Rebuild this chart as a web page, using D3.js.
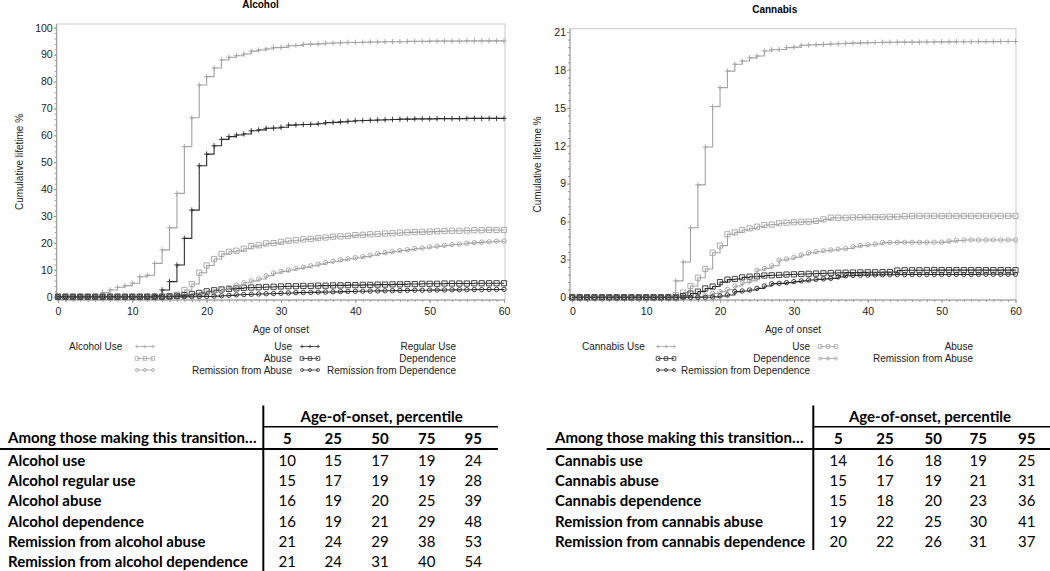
<!DOCTYPE html>
<html><head><meta charset="utf-8">
<script src="https://cdn.jsdelivr.net/npm/d3@7"></script>
<style>
html,body{margin:0;padding:0;background:#fff;}
svg{display:block;}
</style></head>
<body>
<svg id="chart" width="1050" height="571"></svg>
<script>
// ---------------- DATA ----------------
const ages = [0,1,2,3,4,5,6,7,8,9,10,11,12,13,14,15,16,17,18,19,20,21,22,23,24,25,26,27,28,29,30,
  31,32,33,34,35,36,37,38,39,40,41,42,43,44,45,46,47,48,49,50,51,52,53,54,55,56,57,58,59,60];

// Alcohol (cumulative lifetime %)
const alcUse = [0,0,0,0,0,0,1.5,2.5,3.5,4.1,5.0,7.4,8.0,12.4,17.4,25.6,38.4,55.8,66.5,78.7,81.8,
  85.0,88.0,89.0,89.6,90.2,91.3,91.7,92.1,92.6,92.7,93.3,93.4,93.8,93.9,94.0,94.2,94.3,94.4,94.5,94.5,
  94.6,94.7,94.7,94.8,94.8,94.8,94.9,94.9,94.9,95.0,95.0,95.0,95.0,95.0,95.1,95.1,95.1,95.1,95.1,95.1];
const alcRegular = [0,0,0,0,0,0,0,0,0,0,0,0,0,0.3,2.5,5.6,11.8,21.7,32.2,48.7,53.0,
  56.1,58.5,59.5,60.1,60.5,61.7,62.0,62.6,62.7,63.0,63.8,63.9,64.0,64.1,64.3,64.7,64.8,65.0,65.2,65.4,
  65.5,65.6,65.7,65.8,65.9,66.0,66.0,66.1,66.1,66.1,66.2,66.2,66.2,66.2,66.3,66.3,66.3,66.3,66.3,66.3];
const alcAbuse = [0,0,0,0,0,0,0,0,0,0,0,0,0,0,0,0.3,0.8,2.5,4.7,8.9,11.6,
  14.0,15.9,16.7,17.1,17.8,18.8,19.1,19.8,19.9,20.4,20.8,21.0,21.3,21.5,21.8,22.0,22.3,22.4,22.6,22.9,
  23.0,23.2,23.3,23.5,23.6,23.8,23.9,24.0,24.1,24.2,24.3,24.4,24.5,24.5,24.6,24.7,24.7,24.8,24.8,24.8];
const alcDep = [0,0,0,0,0,0,0,0,0,0,0,0,0,0,0,0.1,0.3,0.6,1.0,1.4,2.0,
  2.4,2.7,2.9,3.1,3.3,3.4,3.5,3.6,3.7,3.8,3.9,3.9,4.0,4.0,4.1,4.1,4.2,4.2,4.3,4.3,
  4.4,4.4,4.5,4.5,4.6,4.6,4.7,4.7,4.8,4.8,4.8,4.9,4.9,4.9,4.9,5.0,5.0,5.0,5.0,5.0];
const alcRemAbuse = [0,0,0,0,0,0,0,0,0,0,0,0,0,0,0,0,0,0.1,0.3,0.6,1.0,
  1.8,2.6,3.4,4.3,5.2,5.9,6.6,7.8,8.8,9.4,9.9,10.5,11.0,11.5,12.1,12.7,13.2,13.7,14.1,14.5,
  14.9,15.4,16.0,16.4,16.8,17.2,17.5,17.9,18.1,18.5,18.8,19.1,19.4,19.6,19.9,20.1,20.3,20.4,20.6,20.7];
const alcRemDep = [0,0,0,0,0,0,0,0,0,0,0,0,0,0,0,0,0,0,0,0.05,0.1,
  0.2,0.35,0.5,0.7,0.8,0.9,1.0,1.1,1.2,1.3,1.4,1.5,1.55,1.6,1.7,1.75,1.8,1.9,1.95,2.0,
  2.05,2.1,2.15,2.2,2.25,2.3,2.35,2.4,2.4,2.45,2.45,2.5,2.55,2.6,2.6,2.65,2.65,2.7,2.7,2.75];

// Cannabis (cumulative lifetime %)
const canUse = [0,0,0,0,0,0,0,0,0,0,0,0,0,0,1.3,2.8,5.5,8.9,11.9,15.1,16.6,
  17.9,18.45,18.7,18.95,19.1,19.5,19.6,19.62,19.76,19.8,19.95,19.97,20.0,20.02,20.05,20.07,20.1,20.12,20.14,20.16,
  20.17,20.18,20.19,20.2,20.2,20.2,20.21,20.21,20.22,20.22,20.22,20.23,20.23,20.23,20.24,20.24,20.24,20.25,20.25,20.25];
const canAbuse = [0,0,0,0,0,0,0,0,0,0,0,0,0,0,0.18,0.37,0.9,1.55,2.24,3.53,4.09,
  4.99,5.14,5.33,5.46,5.59,5.72,5.76,5.86,5.9,5.94,5.97,5.99,6.05,6.17,6.3,6.3,6.3,6.32,6.33,6.34,
  6.35,6.36,6.37,6.38,6.42,6.44,6.44,6.44,6.44,6.44,6.44,6.44,6.44,6.44,6.44,6.44,6.44,6.44,6.44,6.44];
const canDep = [0,0,0,0,0,0,0,0,0,0,0,0,0,0,0,0.1,0.3,0.45,0.7,0.85,1.2,
  1.4,1.45,1.58,1.63,1.66,1.72,1.74,1.77,1.8,1.82,1.84,1.86,1.88,1.9,1.92,1.94,1.95,1.96,1.97,1.98,
  1.98,1.99,2.0,2.12,2.14,2.14,2.14,2.14,2.15,2.15,2.15,2.15,2.15,2.15,2.15,2.15,2.15,2.15,2.15,2.15];
const canRemAbuse = [0,0,0,0,0,0,0,0,0,0,0,0,0,0,0,0,0,0.05,0.15,0.3,0.45,
  0.62,0.9,1.15,1.3,2.16,2.29,2.5,2.95,3.03,3.17,3.35,3.53,3.61,3.69,3.75,3.82,3.86,4.0,4.1,4.16,
  4.22,4.33,4.34,4.35,4.35,4.35,4.35,4.36,4.36,4.37,4.45,4.5,4.54,4.54,4.54,4.54,4.54,4.54,4.54,4.54];
const canRemDep = [0,0,0,0,0,0,0,0,0,0,0,0,0,0,0,0,0,0,0,0.03,0.1,
  0.18,0.45,0.5,0.58,0.71,0.9,1.08,1.1,1.16,1.24,1.3,1.37,1.42,1.46,1.5,1.62,1.7,1.73,1.75,1.76,
  1.77,1.78,1.79,1.8,1.8,1.8,1.8,1.8,1.81,1.81,1.81,1.81,1.81,1.81,1.82,1.82,1.82,1.82,1.82,1.82];

// Tick labels
const xTicks = [0,10,20,30,40,50,60];
const alcYTicks = [0,10,20,30,40,50,60,70,80,90,100];
const canYTicks = [0,3,6,9,12,15,18,21];

// Legend labels
const alcLegendTitle = "Alcohol Use";
const alcLegendLabels = ["Use","Regular Use","Abuse","Dependence","Remission from Abuse","Remission from Dependence"];
const canLegendTitle = "Cannabis Use";
const canLegendLabels = ["Use","Abuse","Dependence","Remission from Abuse","Remission from Dependence"];

// Tables
const pctCols = ["5","25","50","75","95"];
const alcRowLabels = ["Alcohol use","Alcohol regular use","Alcohol abuse","Alcohol dependence",
  "Remission from alcohol abuse","Remission from alcohol dependence"];
const alcPctValues = [[10,15,17,19,24],[15,17,19,19,28],[16,19,20,25,39],[16,19,21,29,48],
  [21,24,29,38,53],[21,24,31,40,54]];
const canRowLabels = ["Cannabis use","Cannabis abuse","Cannabis dependence",
  "Remission from cannabis abuse","Remission from cannabis dependence"];
const canPctValues = [[14,16,18,19,25],[15,17,19,21,31],[15,18,20,23,36],[19,22,25,30,41],[20,22,26,31,37]];

// ---------------- STYLE ----------------
const LIGHT = "#a3a3a3", DARK = "#2e2e2e";
const chartFont = "'Liberation Sans', Arial, sans-serif";
const tableFont = "Lato, 'Open Sans', sans-serif";

const svg = d3.select("#chart");
svg.append("rect").attr("width",1050).attr("height",571).attr("fill","#fff");

function markerPath(sym, s){
  if(sym==="plus") return `M${-2.7*s},0H${2.7*s}M0,${-2.7*s}V${2.7*s}`;
  if(sym==="square") { const h=2.6*s; return `M${-h},${-h}H${h}V${h}H${-h}Z`; }
  const r=2.2*s; return `M${-r},0A${r},${r} 0 1,0 ${r},0A${r},${r} 0 1,0 ${-r},0Z`;
}

function drawChart(cfg){
  const g = svg.append("g");
  const x = d3.scaleLinear().domain([0,60]).range(cfg.xRange);
  const y = d3.scaleLinear().domain([0,cfg.yMax]).range(cfg.yRange);
  const f = cfg.frame; // [x0,y0,x1,y1]

  g.append("rect").attr("x",f[0]).attr("y",f[1]).attr("width",f[2]-f[0]).attr("height",f[3]-f[1])
    .attr("fill","none").attr("stroke","#c9c9c9").attr("stroke-width",1);
  g.append("line").attr("x1",f[0]).attr("x2",f[0]).attr("y1",f[1]).attr("y2",f[3]).attr("stroke","#9a9a9a");
  g.append("line").attr("x1",f[0]).attr("x2",f[2]).attr("y1",f[3]).attr("y2",f[3]).attr("stroke","#9a9a9a");

  const xMinor = d3.range(0,61,1);
  const gxm = g.append("g").attr("transform",`translate(0,${f[3]})`)
    .call(d3.axisBottom(x).tickValues(xMinor).tickSize(2).tickFormat(""));
  const gx = g.append("g").attr("transform",`translate(0,${f[3]})`)
    .call(d3.axisBottom(x).tickValues(xTicks).tickSize(3).tickPadding(5));
  const gym = g.append("g").attr("transform",`translate(${f[0]},0)`)
    .call(d3.axisLeft(y).tickValues(cfg.yMinor).tickSize(2).tickFormat(""));
  const gy = g.append("g").attr("transform",`translate(${f[0]},0)`)
    .call(d3.axisLeft(y).tickValues(cfg.yTicks).tickSize(3).tickPadding(1));
  [gx,gy,gxm,gym].forEach(a=>{
    a.select(".domain").remove();
    a.selectAll(".tick line").attr("stroke","#9a9a9a");
    a.selectAll("text").attr("font-family",chartFont).attr("font-size",10.5).attr("fill","#222");
  });

  g.append("text").attr("x",cfg.titleX).attr("y",cfg.titleY).attr("text-anchor","middle")
    .attr("font-family",chartFont).attr("font-weight","bold").attr("font-size",10).text(cfg.title);
  g.append("text").attr("x",(f[0]+f[2])/2).attr("y",333).attr("text-anchor","middle")
    .attr("font-family",chartFont).attr("font-size",10).attr("fill","#222").text("Age of onset");
  g.append("text").attr("transform",`translate(${cfg.yLabelX},${(f[1]+f[3])/2}) rotate(-90)`)
    .attr("text-anchor","middle").attr("font-family",chartFont).attr("font-size",10).attr("fill","#222")
    .text("Cumulative lifetime %");

  const line = d3.line().curve(d3.curveStepAfter).x(d=>x(d[0])).y(d=>y(d[1]));
  cfg.series.forEach(s=>{
    const pts = ages.map((a,i)=>[a,s.values[i]]);
    g.append("path").attr("d",line(pts)).attr("fill","none").attr("stroke",s.color).attr("stroke-width",1.1);
    g.append("g").selectAll("path").data(pts).join("path")
      .attr("transform",d=>`translate(${x(d[0])},${y(d[1])})`)
      .attr("d",markerPath(s.sym,1)).attr("fill","none").attr("stroke",s.color).attr("stroke-width",0.9);
  });

  const L = cfg.legend;
  g.append("text").attr("x",L.titleX).attr("y",L.rows[0]).attr("font-family",chartFont)
    .attr("font-size",10).attr("fill","#222").text(L.title);
  cfg.series.forEach((s,i)=>{
    const col = i%2, row = Math.floor(i/2);
    const sx = L.symX[col], ly = L.rows[row], sy = ly-3.5;
    g.append("line").attr("x1",sx).attr("x2",sx+16).attr("y1",sy).attr("y2",sy)
      .attr("stroke",s.color).attr("stroke-width",0.8);
    [0,8,16].forEach(o=>g.append("path").attr("transform",`translate(${sx+o},${sy})`)
      .attr("d",markerPath(s.sym,0.7)).attr("fill","none").attr("stroke",s.color).attr("stroke-width",0.8));
    g.append("text").attr("x",L.labEnd[col]).attr("y",ly).attr("text-anchor","end")
      .attr("font-family",chartFont).attr("font-size",10).attr("fill","#222").text(s.label);
  });
}

const alcSeries = [
  {values:alcUse, color:LIGHT, sym:"plus"},
  {values:alcRegular, color:DARK, sym:"plus"},
  {values:alcAbuse, color:LIGHT, sym:"square"},
  {values:alcDep, color:DARK, sym:"square"},
  {values:alcRemAbuse, color:LIGHT, sym:"circle"},
  {values:alcRemDep, color:DARK, sym:"circle"}
].map((s,i)=>Object.assign(s,{label:alcLegendLabels[i]}));

const canSeries = [
  {values:canUse, color:LIGHT, sym:"plus"},
  {values:canAbuse, color:LIGHT, sym:"square"},
  {values:canDep, color:DARK, sym:"square"},
  {values:canRemAbuse, color:LIGHT, sym:"circle"},
  {values:canRemDep, color:DARK, sym:"circle"}
].map((s,i)=>Object.assign(s,{label:canLegendLabels[i]}));

drawChart({
  title:"Alcohol", titleX:260.5, titleY:8,
  xRange:[58,504], yRange:[296.7,27.7], yMax:100,
  frame:[56.7,24,505,300], yTicks:alcYTicks, yMinor:d3.range(0,101,2), yLabelX:23,
  series:alcSeries,
  legend:{title:alcLegendTitle, titleX:69, rows:[350,362,373.5], symX:[137,302], labEnd:[292,456]}
});
drawChart({
  title:"Cannabis", titleX:774.7, titleY:12.5,
  xRange:[572.3,1015.5], yRange:[297.3,32], yMax:21,
  frame:[570,28.7,1016,300], yTicks:canYTicks, yMinor:d3.range(0,21.01,0.6), yLabelX:541,
  series:canSeries,
  legend:{title:canLegendTitle, titleX:582, rows:[350,362,373.5], symX:[658,820], labEnd:[810,973]}
});

// ---------------- TABLES ----------------
function drawTable(t){
  const g = svg.append("g").attr("font-family",tableFont).attr("fill","#000");
  g.append("line").attr("x1",t.vx).attr("x2",t.vx).attr("y1",405.5).attr("y2",t.vBottom)
    .attr("stroke","#000").attr("stroke-width",2);
  g.append("line").attr("x1",t.vx).attr("x2",t.right).attr("y1",426.7).attr("y2",426.7)
    .attr("stroke","#000").attr("stroke-width",1.5);
  g.append("line").attr("x1",t.left).attr("x2",t.right).attr("y1",449).attr("y2",449)
    .attr("stroke","#000").attr("stroke-width",2);
  g.append("text").attr("x",t.headX).attr("y",443).attr("font-weight","bold").attr("font-size",t.fs)
    .text("Among those making this transition…");
  g.append("text").attr("x",t.groupX).attr("y",422).attr("text-anchor","middle")
    .attr("font-weight","bold").attr("font-size",t.fs).text("Age-of-onset, percentile");
  g.selectAll(".ch").data(pctCols).join("text").attr("x",(d,i)=>t.colX[i]).attr("y",443.5)
    .attr("text-anchor","middle").attr("font-weight","bold").attr("font-size",t.fs).text(d=>d);
  const rowY = i=>465.6 + i*20.3;
  g.selectAll(".rl").data(t.labels).join("text").attr("x",t.headX).attr("y",(d,i)=>rowY(i))
    .attr("font-weight","bold").attr("font-size",t.fs).text(d=>d);
  t.values.forEach((row,i)=>{
    g.selectAll(null).data(row).join("text").attr("x",(d,j)=>t.colX[j]).attr("y",rowY(i))
      .attr("text-anchor","middle").attr("font-size",t.fs).text(d=>d);
  });
}
drawTable({left:0,right:498,vx:263.3,vBottom:571,headX:8,groupX:381.7,fs:15,
  colX:[287.3,333.3,380,426.7,473.3],labels:alcRowLabels,values:alcPctValues});
drawTable({left:546.7,right:1050,vx:813.3,vBottom:550,headX:555,groupX:930,fs:15,
  colX:[838.3,885,933.3,978.3,1026.7],labels:canRowLabels,values:canPctValues});
</script>
</body></html>
